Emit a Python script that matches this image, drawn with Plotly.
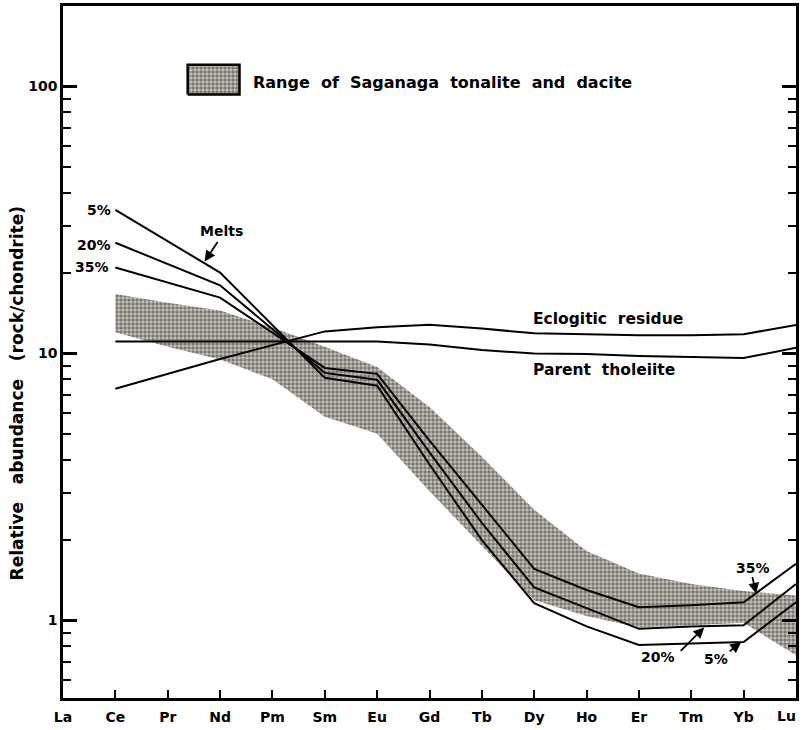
import plotly.graph_objects as go

ree = ["La", "Ce", "Pr", "Nd", "Pm", "Sm", "Eu", "Gd", "Tb", "Dy", "Ho", "Er", "Tm", "Yb", "Lu"]

# Saganaga tonalite & dacite range (upper / lower envelope), Ce..Lu
band_upper = [None, 16.7, 15.5, 14.5, 12.5, 10.6, 8.9, 6.3, 4.1, 2.6, 1.82, 1.50, 1.37, 1.29, 1.24]
band_lower = [None, 12.0, 10.6, 9.5, 8.0, 5.8, 5.0, 3.05, 1.90, 1.19, 1.04, 0.94, 0.96, 0.98, 0.74]

melt_5 = [None, 34.5, None, 20.1, None, 8.11, 7.57, 3.84, 2.00, 1.16, 0.95, 0.81, 0.82, 0.83, 1.17]
melt_20 = [None, 26.0, None, 18.0, None, 8.46, 7.97, 4.26, 2.32, 1.33, 1.11, 0.93, 0.95, 0.96, 1.37]
melt_35 = [None, 21.0, None, 16.2, None, 8.83, 8.39, 4.72, 2.70, 1.56, 1.30, 1.12, 1.14, 1.17, 1.63]

eclogitic_residue = [None, 7.38, None, 9.54, None, 12.1, 12.55, 12.8, 12.4, 11.9, 11.8, 11.7, 11.7, 11.8, 12.8]
parent_tholeiite = [None, 11.1, None, 11.1, None, 11.1, 11.1, 10.8, 10.3, 10.0, 9.96, 9.79, 9.70, 9.62, 10.5]

y_tick_vals = [1, 10, 100]
y_tick_text = ["1", "10", "100"]
y_minor_vals = [0.6, 0.7, 0.8, 0.9, 2, 3, 4, 5, 6, 7, 8, 9, 20, 30, 40, 50, 60, 70, 80, 90, 200]

xs = list(range(len(ree)))
FONT = "DejaVu Sans"
BAND_PATTERN = dict(shape=".", bgcolor="#c9c5b8", fgcolor="#2b2731", size=4, solidity=0.6)

fig = go.Figure()

# band polygon
bx = [x for x, v in zip(xs, band_upper) if v is not None]
bu = [v for v in band_upper if v is not None]
bl = [v for v in band_lower if v is not None]
fig.add_trace(go.Scatter(
    x=bx + bx[::-1], y=bu + bl[::-1], mode="lines", fill="toself",
    line=dict(width=0, color="rgba(0,0,0,0)"), fillpattern=BAND_PATTERN,
    fillcolor="#c9c5b8", hoverinfo="skip", showlegend=False))

for series in [eclogitic_residue, parent_tholeiite, melt_5, melt_20, melt_35]:
    fig.add_trace(go.Scatter(x=xs, y=series, mode="lines", connectgaps=True,
                             line=dict(color="black", width=2), showlegend=False))

W, H = 802, 730
L, R, T, B = 63, 4, 3, 32
pw, ph = W - L - R, H - T - B

# legend swatch on an overlay axis (box at 188..240 x 62..92 px)
sx0, sx1, sy0, sy1 = 188, 240, 62, 92
x2_range = [-(sx0 - L) / (sx1 - sx0), (L + pw - sx0) / (sx1 - sx0)]
y2_range = [-((H - B) - sy1) / (sy1 - sy0), (sy1 - T) / (sy1 - sy0)]
fig.add_trace(go.Scatter(
    x=[0, 1, 1, 0, 0], y=[0, 0, 1, 1, 0], mode="lines", fill="toself",
    line=dict(color="black", width=2.5), fillpattern=BAND_PATTERN, fillcolor="#c9c5b8",
    xaxis="x2", yaxis="y2", showlegend=False, hoverinfo="skip"))

fig.update_layout(
    width=W, height=H, margin=dict(l=L, r=R, t=T, b=B),
    paper_bgcolor="white", plot_bgcolor="white",
    font=dict(family=FONT, size=14, color="black"),
    xaxis=dict(range=[0, 14], tickvals=xs, ticktext=ree, ticks="inside", ticklen=8,
               tickwidth=2, tickcolor="black", showline=True, linecolor="black", linewidth=2.5,
               mirror=True, showgrid=False, zeroline=False, ticklabelstandoff=4,
               tickfont=dict(family=FONT, size=14, color="black", weight="bold")),
    yaxis=dict(type="log", range=[-0.2905, 2.3017], tickvals=y_tick_vals, ticktext=y_tick_text,
               ticks="inside", ticklen=14, tickwidth=2.5, tickcolor="black",
               minor=dict(tickvals=y_minor_vals, ticks="inside", ticklen=8, tickwidth=2, tickcolor="black"),
               showline=True, linecolor="black", linewidth=2.5, mirror="ticks",
               showgrid=False, zeroline=False,
               tickfont=dict(family=FONT, size=14, color="black", weight="bold")),
    xaxis2=dict(overlaying="x", range=x2_range, visible=False, fixedrange=True),
    yaxis2=dict(overlaying="y", range=y2_range, visible=False, fixedrange=True),
)

ann = []
def t(text, px, py, xanchor="center", size=14):
    ann.append(dict(text=text, x=(px - L) / 52.5, y=(620 - py) / 268.5, xref="x", yref="y",
                    showarrow=False, xanchor=xanchor, yanchor="middle",
                    font=dict(family=FONT, size=size, color="black", weight="bold")))

def arrow(tail, head):
    ann.append(dict(text="", x=(head[0] - L) / 52.5, y=(620 - head[1]) / 268.5, xref="x", yref="y",
                    ax=tail[0] - head[0], ay=tail[1] - head[1], showarrow=True,
                    arrowhead=2, arrowsize=1.2, arrowwidth=1.8, arrowcolor="black"))

t("5%", 113, 207, "right")
t("20%", 113, 242, "right")
t("35%", 111, 265, "right")
t("Melts", 222, 228)
arrow((219, 238), (205, 259))
t("Eclogitic  residue", 532, 317, "left", 15.5)
t("Parent  tholeiite", 532, 368, "left", 15.5)
t("35%", 755, 567)
arrow((754, 575), (758, 593))
t("20%", 660, 657)
arrow((681, 652), (706, 627))
t("5%", 718, 659)
arrow((730, 652), (743, 642))

# Lu label at the right edge, kept inside the page
ann.append(dict(text=ree[-1], x=14, y=0, xref="x", yref="paper", yshift=-8, xshift=2,
                xanchor="right", yanchor="top", showarrow=False,
                font=dict(family=FONT, size=14, color="black", weight="bold")))

ann.append(dict(text="Range  of  Saganaga  tonalite  and  dacite", x=(252 - L) / pw, y=(698 - 80) / ph,
                xref="paper", yref="paper", xanchor="left", yanchor="middle", showarrow=False,
                font=dict(family=FONT, size=16, color="black", weight="bold")))
ann.append(dict(text="Relative   abundance   (rock/chondrite)", x=-(L - 17) / pw, y=(698 - 392) / ph,
                xref="paper", yref="paper", xanchor="center", yanchor="middle", showarrow=False,
                textangle=-90, font=dict(family=FONT, size=17, color="black", weight="bold")))
fig.update_layout(annotations=ann)

fig.write_html("out.html")
